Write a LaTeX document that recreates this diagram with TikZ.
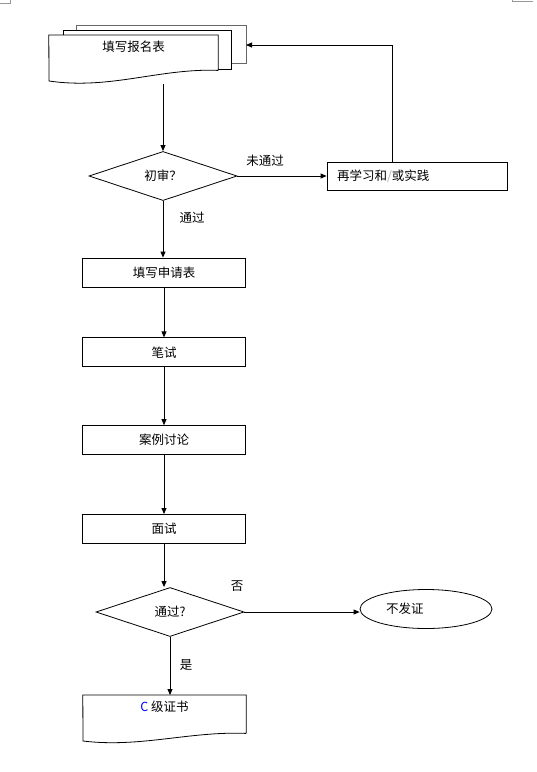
\documentclass[tikz,border=0pt]{standalone}
\usepackage{fontspec}
\usepackage{xcolor}
\newfontfamily\cjk{Noto Sans CJK SC}
\newcommand{\cnfont}{\cjk\fontsize{12.5}{15}\selectfont}
\usetikzlibrary{shapes.geometric, arrows.meta, positioning, calc}

\begin{document}
\begin{tikzpicture}[
    x=1pt, y=-1pt,
    node distance=50pt,
    line/.style={draw=black, line width=0.8pt},
    stepbox/.style={rectangle, draw, line width=0.8pt, minimum width=163pt, minimum height=29pt, inner sep=0pt, font=\cnfont},
    decision/.style={diamond, draw, line width=0.8pt, minimum width=148pt, minimum height=49pt, inner sep=0pt, font=\cnfont},
    docbox/.style={rectangle, minimum width=169pt, inner sep=0pt, text height=16pt, text depth=19pt, font=\cnfont},
    term/.style={ellipse, draw, line width=0.8pt, minimum width=132pt, minimum height=39pt, inner sep=0pt, text width=80pt, align=left, font=\cnfont},
    lbl/.style={inner sep=1pt, font=\cnfont},
    arr/.style={-{Triangle[length=6pt, width=5pt]}, line width=0.8pt, color=black}
]
\useasboundingbox (0,0) rectangle (537,772);

% page corner marks
\draw[black!40, line width=0.6pt] (0,3) -- (10,3) -- (10,0);
\draw[black!40, line width=0.6pt] (533,1) -- (512,1) -- (512,0);

% registration form (stacked documents)
\node[docbox, anchor=north] (apply) at (133.5,35) {填写报名表};
\draw[line, draw=black!60] (76,30) -- (76,25) -- (246,25) -- (246,63) -- (231,63);
\draw[line] (63,35) -- (63,30) -- (231,30) -- (231,69) -- (218,69);
\draw[line] (apply.south east) -- (apply.north east) -- (apply.north west) -- (49,81)
    .. controls (110,90) and (160,68) .. (apply.south east);
\coordinate (apply out) at (163,84);
\coordinate (stack) at (246,45);

\node[decision] (check) at (163,176) {初审？};
\node[stepbox, minimum width=180pt, minimum height=28pt, text width=160pt, align=left] (relearn) at (417,176) {再学习和{\color{black!30}/}或实践};

\node[stepbox] (form) at (164,272.5) {填写申请表};
\node[stepbox, below=50pt of form] (written) {笔试};
\node[stepbox, below=58pt of written] (case) {案例讨论};
\node[stepbox, below=59pt of case] (interview) {面试};

\node[decision] (pass) at (170,612) {通过?};
\node[term] (noissue) at (426,609) {不发证};

% certificate
\node[docbox, minimum width=163pt, text depth=22pt, anchor=north] (cert) at (164.5,695) {{\color{blue}C} 级证书};
\draw[line] (cert.south east) -- (cert.north east) -- (cert.north west) -- (83,741)
    .. controls (140,748) and (190,731) .. (cert.south east);

% edge labels
\node[lbl] (fail1) at (265,161) {未通过};
\node[lbl] (ok1) at (192,218) {通过};
\node[lbl] (no2) at (237,586) {否};
\node[lbl] (yes2) at (186,665) {是};

\draw[arr] (apply out) -- (check.north);
\draw[arr] (check.east) -- (relearn.west);
\draw[arr] ([xshift=-25pt]relearn.north) |- (stack);
\draw[arr] (check.south) -- (check.south |- form.north);
\draw[arr] (form) -- (written);
\draw[arr] (written) -- (case);
\draw[arr] (case) -- (interview);
\draw[arr] (interview.south) -- (interview.south |- pass.north);
\draw[arr] (pass.east) -- (pass.east -| noissue.west);
\draw[arr] (pass.south) -- (pass.south |- cert.north);

\end{tikzpicture}
\end{document}
